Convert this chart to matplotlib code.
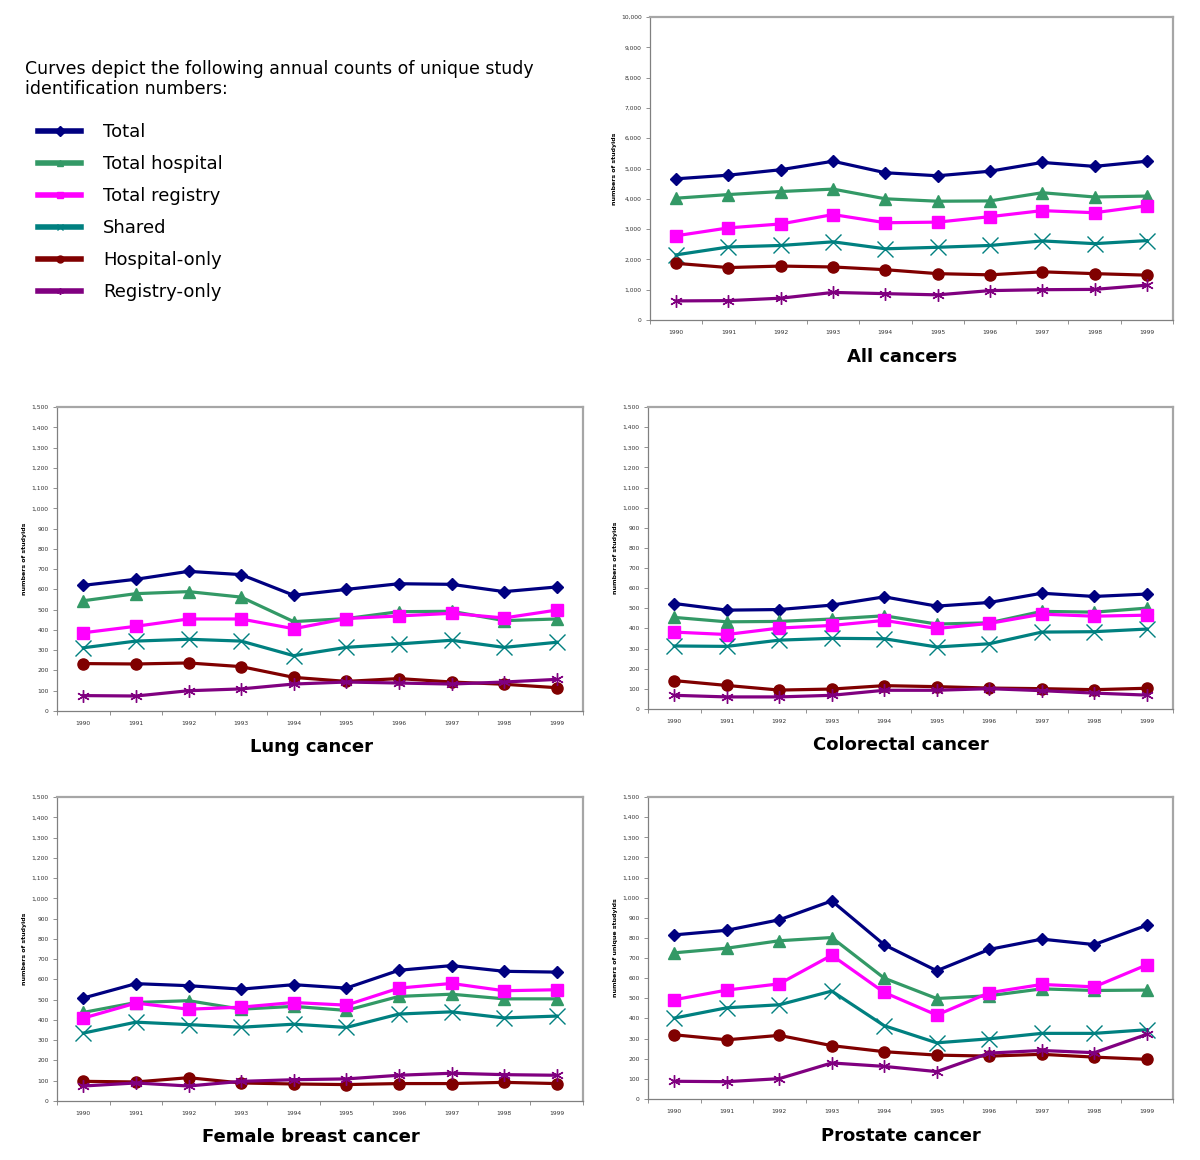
import matplotlib
matplotlib.use("Agg")
import matplotlib.pyplot as plt
from matplotlib.lines import Line2D
from matplotlib.ticker import FuncFormatter, FixedLocator

# annees et series
annees = ["1990", "1991", "1992", "1993", "1994", "1995", "1996", "1997", "1998", "1999"]
series = ["Total", "Total hospital", "Total registry", "Shared", "Hospital-only", "Registry-only"]

# All cancers
all_total = [4660, 4780, 4960, 5240, 4860, 4760, 4910, 5200, 5070, 5240]
all_hosp = [4020, 4140, 4240, 4320, 4000, 3920, 3930, 4200, 4060, 4090]
all_reg = [2780, 3040, 3170, 3480, 3210, 3230, 3410, 3610, 3540, 3770]
all_shared = [2150, 2410, 2460, 2580, 2350, 2400, 2460, 2610, 2520, 2620]
all_hosp_only = [1870, 1730, 1780, 1750, 1660, 1530, 1490, 1590, 1530, 1480]
all_reg_only = [630, 640, 720, 910, 870, 830, 970, 1000, 1010, 1150]

# Lung cancer
lung_total = [620, 650, 689, 673, 571, 600, 628, 625, 589, 612]
lung_hosp = [544, 579, 589, 562, 441, 456, 490, 492, 446, 454]
lung_reg = [386, 418, 454, 454, 406, 456, 469, 482, 459, 498]
lung_shared = [312, 345, 354, 345, 273, 314, 331, 349, 314, 339]
lung_hosp_only = [234, 232, 237, 219, 166, 146, 160, 143, 132, 115]
lung_reg_only = [76, 74, 100, 109, 133, 143, 138, 133, 143, 156]

# Colorectal cancer
colo_total = [524, 491, 494, 516, 557, 511, 529, 575, 559, 571]
colo_hosp = [455, 433, 435, 447, 463, 422, 428, 485, 481, 501]
colo_reg = [382, 370, 402, 415, 440, 400, 425, 471, 461, 466]
colo_shared = [313, 311, 342, 351, 349, 308, 324, 382, 384, 397]
colo_hosp_only = [141, 117, 94, 99, 116, 111, 104, 101, 96, 103]
colo_reg_only = [68, 60, 60, 68, 93, 93, 101, 91, 79, 69]

# Female breast cancer
breast_total = [508, 579, 569, 552, 574, 557, 645, 668, 640, 636]
breast_hosp = [437, 486, 495, 453, 467, 447, 516, 527, 504, 504]
breast_reg = [409, 483, 453, 463, 486, 473, 557, 580, 544, 549]
breast_shared = [335, 389, 377, 364, 379, 363, 429, 440, 410, 419]
breast_hosp_only = [97, 94, 115, 89, 84, 81, 86, 86, 92, 86]
breast_reg_only = [74, 89, 74, 97, 105, 109, 127, 137, 130, 127]

# Prostate cancer
pros_total = [815, 838, 890, 984, 766, 637, 743, 794, 767, 863]
pros_hosp = [726, 749, 786, 802, 600, 499, 513, 547, 539, 541]
pros_reg = [493, 541, 572, 714, 529, 417, 528, 569, 557, 666]
pros_shared = [402, 453, 468, 536, 364, 279, 299, 326, 326, 344]
pros_hosp_only = [319, 294, 316, 265, 235, 218, 213, 222, 208, 197]
pros_reg_only = [88, 86, 101, 179, 162, 136, 228, 241, 230, 321]

couleurs = ["#000080", "#339966", "#FF00FF", "#008080", "#800000", "#800080"]
marqueurs = ["D", "^", "s", "x", "o", (6, 2, 0)]
tailles = [6.5, 8, 8, 11, 8, 9]

W, H = 1200, 1160
fig = plt.figure(figsize=(W / 100, H / 100), dpi=100)


def boite(x0, x1, y0, y1):
    # pixels -> coordonnees figure
    return [x0 / W, 1 - y1 / H, (x1 - x0) / W, (y1 - y0) / H]


def panneau(rect, donnees, ymax, pas, ylabel, titre, tx, ty):
    ax = fig.add_axes(rect)
    xs = list(range(len(annees)))
    for vals, c, m, s in zip(donnees, couleurs, marqueurs, tailles):
        ax.plot(xs, vals, color=c, lw=2.3, marker=m, ms=s,
                mew=1.0, mec=c, mfc=c, solid_joinstyle="round")
    ax.set_xlim(-0.5, len(annees) - 0.5)
    ax.set_ylim(0, ymax)
    ax.set_yticks(range(0, ymax + 1, pas))
    ax.yaxis.set_major_formatter(FuncFormatter(lambda v, p: f"{int(v):,}"))
    ax.set_xticks(xs)
    ax.set_xticklabels(annees)
    ax.xaxis.set_minor_locator(FixedLocator([i - 0.5 for i in range(len(annees) + 1)]))
    ax.tick_params(axis="x", which="major", length=0, labelsize=4.3, pad=7, colors="#333333")
    ax.tick_params(axis="x", which="minor", length=3, width=0.6, color="#808080", direction="out")
    ax.tick_params(axis="y", which="major", length=3, width=0.6, labelsize=4.3, colors="#333333",
                   color="#808080", pad=3)
    for cote in ["left", "bottom"]:
        ax.spines[cote].set_color("#808080")
        ax.spines[cote].set_linewidth(0.9)
    for cote in ["top", "right"]:
        ax.spines[cote].set_color("#A6A6A6")
        ax.spines[cote].set_linewidth(1.6)
    ax.set_ylabel(ylabel, fontsize=4.5, fontweight="bold", labelpad=3)
    fig.text(tx / W, 1 - ty / H, titre, ha="center", va="center",
             fontsize=13, fontweight="bold")
    return ax


panneau(boite(650, 1173, 17, 320),
        [all_total, all_hosp, all_reg, all_shared, all_hosp_only, all_reg_only],
        10000, 1000, "numbers of studyids", "All cancers", 902, 357)
panneau(boite(57, 583, 407, 711),
        [lung_total, lung_hosp, lung_reg, lung_shared, lung_hosp_only, lung_reg_only],
        1500, 100, "numbers of studyids", "Lung cancer", 311, 747)
panneau(boite(648, 1173, 407, 709),
        [colo_total, colo_hosp, colo_reg, colo_shared, colo_hosp_only, colo_reg_only],
        1500, 100, "numbers of studyids", "Colorectal cancer", 901, 745)
panneau(boite(57, 583, 797, 1101),
        [breast_total, breast_hosp, breast_reg, breast_shared, breast_hosp_only, breast_reg_only],
        1500, 100, "numbers of studyids", "Female breast cancer", 311, 1137)
panneau(boite(648, 1173, 797, 1099),
        [pros_total, pros_hosp, pros_reg, pros_shared, pros_hosp_only, pros_reg_only],
        1500, 100, "numbers of unique studyids", "Prostate cancer", 901, 1136)

# texte et legende en haut a gauche
fig.text(25 / W, 1 - 79 / H,
         "Curves depict the following annual counts of unique study\nidentification numbers:",
         ha="left", va="center", fontsize=12.5, linespacing=1.2)

poignees = [Line2D([0], [0], color=c, lw=4, marker=m, ms=5, mec=c, mfc=c)
            for c, m in zip(couleurs, marqueurs)]
fig.legend(poignees, series, loc="upper left", bbox_to_anchor=(38 / W, 1 - 123 / H),
           frameon=False, fontsize=13, handlelength=2.4, handletextpad=1.2,
           labelspacing=0.78, borderpad=0, borderaxespad=0)

fig.savefig("out.png", dpi=100, facecolor="white")
